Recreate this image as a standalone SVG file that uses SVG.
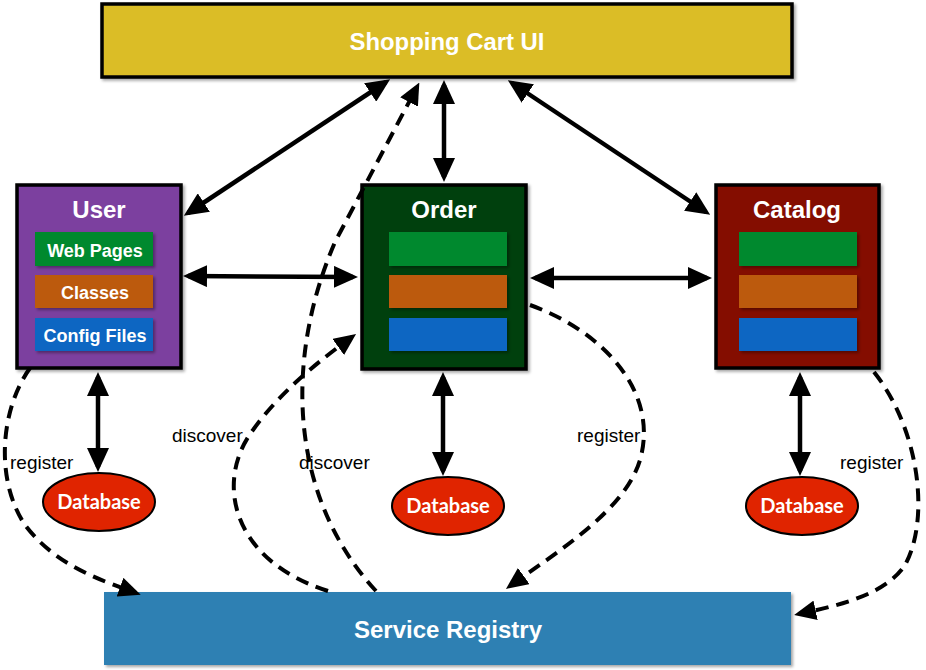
<svg xmlns="http://www.w3.org/2000/svg" width="926" height="670" viewBox="0 0 926 670">
<defs>
<filter id="sh" x="-10%" y="-10%" width="125%" height="125%"><feDropShadow dx="2" dy="2" stdDeviation="1.5" flood-color="#000" flood-opacity="0.35"/></filter>
<marker id="ah" markerWidth="24" markerHeight="22" refX="19" refY="11" orient="auto-start-reverse" markerUnits="userSpaceOnUse"><path d="M0,0 L24,11 L0,22 z" fill="#000"/></marker>
<marker id="dh" markerWidth="22" markerHeight="20" refX="17" refY="10" orient="auto" markerUnits="userSpaceOnUse"><path d="M0,0 L22,10 L0,20 z" fill="#000"/></marker>
</defs>
<style>
.box{stroke:#000;stroke-width:3.5;filter:url(#sh)}
.inner{filter:url(#sh)}
.title{font-family:"Liberation Sans",Arial,sans-serif;font-weight:bold;fill:#fff;text-anchor:middle}
.db{fill:#e02400;stroke:#000;stroke-width:2}
.dbt{font-family:Lato,"Open Sans",sans-serif;font-weight:bold;font-size:20px;fill:#fff;text-anchor:middle}
.lbl{font-family:"Liberation Sans",Arial,sans-serif;font-size:19px;fill:#000}
.solid{fill:none;stroke:#000;stroke-width:4.5;marker-start:url(#ah);marker-end:url(#ah)}
.dash{fill:none;stroke:#000;stroke-width:4;stroke-dasharray:13 8;marker-end:url(#dh)}
</style>
<g id="ui"><rect class="box" x="102" y="4" width="690" height="73" fill="#dbbd25"/><text class="title" x="447" y="50" font-size="24" textLength="195" lengthAdjust="spacingAndGlyphs">Shopping Cart UI</text></g>
<g id="user"><rect class="box" x="17" y="185" width="164" height="183" fill="#7b3f9f"/><text class="title" x="99" y="218" font-size="24">User</text>
<rect class="inner" x="35" y="232" width="118" height="34" fill="#01892f"/><text class="title" x="95" y="257" font-size="18">Web Pages</text>
<rect class="inner" x="35" y="275" width="118" height="33" fill="#bc5a0d"/><text class="title" x="95" y="299" font-size="18">Classes</text>
<rect class="inner" x="35" y="318" width="118" height="33" fill="#0866c2"/><text class="title" x="95" y="342" font-size="18">Config Files</text></g>
<g id="order"><rect class="box" x="362" y="185" width="164" height="184" fill="#063f0e"/><text class="title" x="444" y="218" font-size="24">Order</text>
<rect class="inner" x="389" y="232" width="118" height="34" fill="#01892f"/>
<rect class="inner" x="389" y="275" width="118" height="33" fill="#bc5a0d"/>
<rect class="inner" x="389" y="318" width="118" height="33" fill="#0866c2"/></g>
<g id="catalog"><rect class="box" x="716" y="185" width="163" height="183" fill="#841002"/><text class="title" x="797" y="218" font-size="24">Catalog</text>
<rect class="inner" x="739" y="232" width="118" height="34" fill="#01892f"/>
<rect class="inner" x="739" y="275" width="118" height="33" fill="#bc5a0d"/>
<rect class="inner" x="739" y="318" width="118" height="33" fill="#0866c2"/></g>
<g id="registry"><rect class="inner" x="104" y="592" width="687" height="73" fill="#2e80b3"/><text class="title" x="448" y="638" font-size="24">Service Registry</text></g>
<g id="db-user"><ellipse class="db" cx="99" cy="502" rx="56" ry="29"/><text class="dbt" x="99" y="509">Database</text></g>
<g id="db-order"><ellipse class="db" cx="448" cy="506" rx="56" ry="29"/><text class="dbt" x="448" y="513">Database</text></g>
<g id="db-catalog"><ellipse class="db" cx="802" cy="506" rx="56" ry="29"/><text class="dbt" x="802" y="513">Database</text></g>
<g id="connectors">
<line class="solid" x1="386" y1="82" x2="188" y2="213"/>
<line class="solid" x1="444" y1="85" x2="444" y2="177"/>
<line class="solid" x1="512" y1="83" x2="706" y2="212"/>
<line class="solid" x1="188" y1="276" x2="353" y2="277"/>
<line class="solid" x1="535" y1="278" x2="707" y2="278"/>
<line class="solid" x1="98" y1="377" x2="98" y2="467"/>
<line class="solid" x1="443" y1="377" x2="443" y2="471"/>
<line class="solid" x1="800" y1="377" x2="800" y2="471"/>
<path class="dash" d="M30 368 C0 410,-5 480,25 525 C55 565,100 580,136 593"/>
<path class="dash" d="M328 591 C230 560,215 480,253 430 C280 392,320 360,352 337"/>
<path class="dash" d="M376 591 C292 500,282 365,335 242 L417 87"/>
<path class="dash" d="M530 305 C600 330,660 390,640 460 C625 510,560 550,510 586"/>
<path class="dash" d="M874 372 C920 430,930 520,905 565 C885 595,840 605,799 614"/>
<text class="lbl" x="10" y="469">register</text>
<text class="lbl" x="172" y="442">discover</text>
<text class="lbl" x="299" y="469">discover</text>
<text class="lbl" x="577" y="442">register</text>
<text class="lbl" x="840" y="469">register</text>
</g>
</svg>
